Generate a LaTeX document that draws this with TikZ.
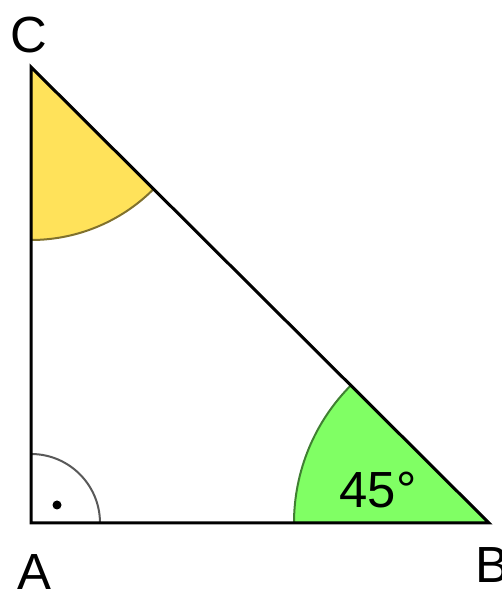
\documentclass[tikz,border=0pt]{standalone}
\usepackage{fontspec}
\setmainfont{Liberation Sans}
\usepackage{tikz}
\usetikzlibrary{calc}
\definecolor{angleyellow}{RGB}{255,226,90}
\definecolor{anglegreen}{RGB}{128,255,100}
\tikzset{
  side/.style={line width=3bp, black, line join=miter},
  sector/.style={fill=#1, draw=#1!50!black, line width=2bp},
  rightarc/.style={draw=black!65, line width=2bp},
  vlabel/.style={font=\fontsize{51}{56}\selectfont, inner sep=0pt},
}

\begin{document}
\begin{tikzpicture}[x=1bp,y=1bp]
\useasboundingbox (0,0) rectangle (502,592);
% vertices
\coordinate (A) at (31,69);
\coordinate (B) at (489,69);
\coordinate (C) at (31,525);
% angle sectors
\filldraw[sector=angleyellow] (C) -- ++(270:173) arc[start angle=270, end angle=315, radius=173] -- cycle;
\filldraw[sector=anglegreen] (B) -- ++(135:195) arc[start angle=135, end angle=180, radius=195] -- cycle;
% right angle at A
\draw[rightarc] ($(A)+(69,0)$) arc[start angle=0, end angle=90, radius=69];
\fill ($(A)+(26,18)$) circle (4.5);
% triangle
\draw[side] (A) -- (B) -- (C) -- cycle;
% labels
\node[vlabel] (labC) at (29,557) {C};
\node[vlabel] (labA) at (34,20) {A};
\node[vlabel] (labB) at (492,27) {B};
\node[vlabel] (ang) at (378,102) {45°};
\end{tikzpicture}
\end{document}
